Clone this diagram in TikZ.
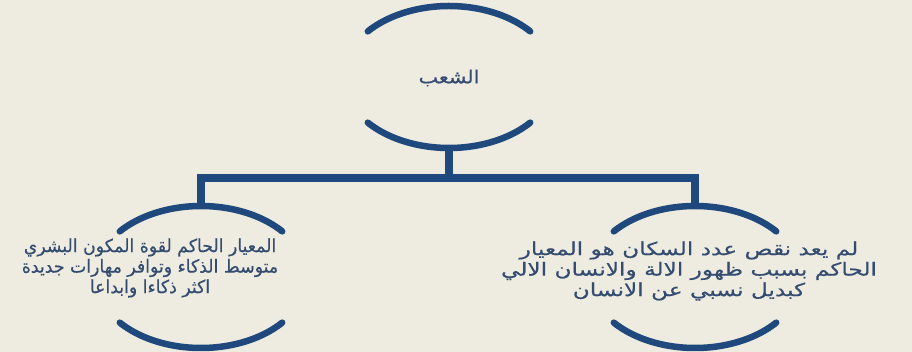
\documentclass[tikz,border=0pt]{standalone}
\usepackage{fontspec}
\newfontfamily\arabicA[Script=Arabic,FakeStretch=1.15,FakeBold=0.4]{DejaVu Sans}
\newfontfamily\arabicB[Script=Arabic,FakeStretch=0.96,FakeBold=0.4]{DejaVu Sans}
\newfontfamily\arabicC[Script=Arabic,FakeStretch=1.29,FakeBold=0.4]{DejaVu Sans}
\TeXXeTstate=1
\definecolor{bgc}{HTML}{EEECE1}
\definecolor{navy}{HTML}{1F497D}
\definecolor{txtc}{RGB}{52,76,112}
\tikzset{
  arcline/.style={draw=navy,line width=6.5pt,line cap=round},
  conn/.style={draw=navy,line width=8pt,line join=miter},
  txt/.style={text=txtc,align=center,inner sep=0pt}
}
\begin{document}
\begin{tikzpicture}[x=1pt,y=-1pt]
\fill[bgc] (0,0) rectangle (912,352);
\useasboundingbox (0,0) rectangle (912,352);
% circle centres
\coordinate (cA) at (449,77);
\coordinate (cB) at (201,277);
\coordinate (cC) at (695,277);
\foreach \c in {cA,cB,cC}{
  \draw[arcline] ([shift={(40:106pt and 71pt)}]\c) arc[start angle=40,end angle=140,x radius=106pt,y radius=71pt];
  \draw[arcline] ([shift={(220:106pt and 71pt)}]\c) arc[start angle=220,end angle=320,x radius=106pt,y radius=71pt];
}
\coordinate (aBot) at ([yshift=-71pt]cA);
\coordinate (bTop) at ([yshift=71pt]cB);
\coordinate (cTop) at ([yshift=71pt]cC);
\coordinate (bus) at (449,178);
\draw[conn] (aBot) -- (bus);
\draw[conn] (bTop) |- (bus) -| (cTop);
% texts
\node[txt,font=\arabicA\fontsize{18}{20.5}\selectfont] (tA) at (449,78) {\beginR الشعب\endR};
\node[txt,font=\arabicB\fontsize{18}{20.5}\selectfont] (tB) at (150,268) {\beginR المعيار الحاكم لقوة المكون البشري\endR\\
\beginR متوسط الذكاء  وتوافر مهارات جديدة\endR\\
\beginR اكثر ذكاءا وابداعا\endR};
\node[txt,font=\arabicC\fontsize{18}{20.5}\selectfont] (tC) at (689,271) {\beginR لم يعد نقص عدد السكان هو المعيار\endR\\
\beginR الحاكم بسبب ظهور الالة والانسان الالي\endR\\
\beginR كبديل نسبي عن الانسان\endR};
\end{tikzpicture}
\end{document}
